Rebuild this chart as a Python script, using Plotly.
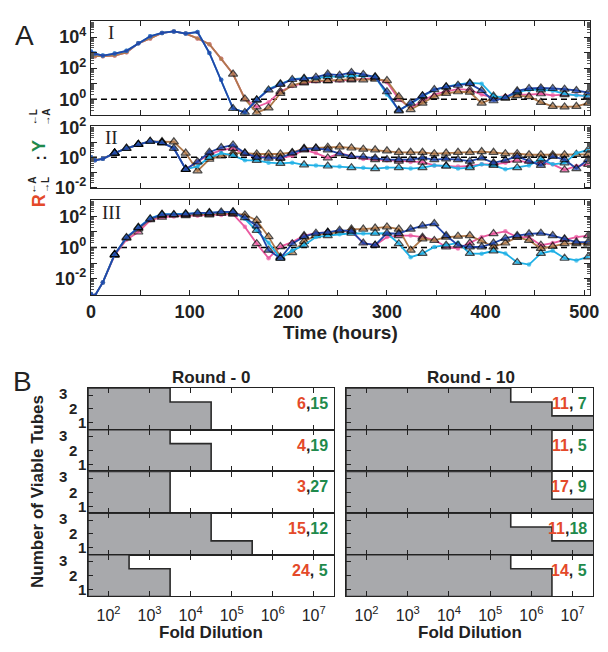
import plotly.graph_objects as go

# ---------------- DATA ----------------
T = [0, 4, 12, 24, 36, 48, 60, 72, 84, 96, 108, 120, 132, 144, 156, 168, 180, 192, 204, 216, 228, 240,
     252, 264, 276, 288, 300, 312, 324, 336, 348, 360, 372, 384, 396, 408, 420, 432, 444, 456, 468, 480, 492, 504]

# log10 of the ratio, panel I
I_blue = [3.08, 2.94, 2.81, 2.94, 3.12, 3.6, 4.06, 4.27, 4.37, 4.23, 4.33, 2.98, 1.25, -0.6, -0.85, -0.05, 0.6, 0.95,
          1.27, 1.31, 1.42, 1.62, 1.55, 1.73, 1.6, 1.42, 0.48, -0.75, -0.25, 0.23, 0.62, 0.79, 0.9, 1.0, 0.56, -0.1,
          0.1, 0.54, 0.69, 0.73, 0.69, 0.65, 0.56, 0.42]
I_brown = [2.9, 2.77, 2.77, 2.81, 3.02, 3.6, 3.92, 4.27, 4.37, 4.23, 3.92, 3.54, 2.6, 1.62, 0.02, -0.87, -0.56, 0.38,
           0.9, 1.1, 1.2, 1.2, 1.25, 1.3, 1.25, 1.3, 1.2, 0.17, -0.67, -0.25, 0.17, 0.38, 0.48, 0.45, -0.25, 0.06,
           0.06, 0.23, 0.17, -0.2, -0.46, -0.5, -0.46, -0.25]
I_pink = [2.9, 2.77, 2.77, 2.81, 3.02, 3.6, 3.92, 4.27, 4.37, 4.23, 3.92, 3.54, 2.6, 1.62, 0.02,
          -0.5, -0.2, 0.5, 0.85, 1.05, 1.15, 1.2, 1.2, 1.25, 1.3, 1.35, 1.1, 0.0, -0.55, -0.1, 0.3, 0.5, 0.65, 0.6,
          0.3, 0.1, 0.2, 0.3, 0.3, 0.35, 0.25, 0.3, 0.3, 0.15]
I_cyan = [3.08, 2.94, 2.81, 2.94, 3.12, 3.6, 4.06, 4.27, 4.37, 4.23, 4.33, 2.98, 1.25, -0.6, -0.85,
          -0.05, 0.65, 1.0, 1.3, 1.35, 1.35, 1.45, 1.45, 1.5, 1.5, 1.45, 0.3, -0.7, -0.3, 0.2, 0.6, 0.8, 0.95, 1.05,
          1.0, 0.2, 0.1, 0.45, 0.6, 0.6, 0.55, 0.35, 0.25, 0.2]

# panel II
II_blue = [0, -0.2, -0.1, 0.28, 0.6, 0.86, 1.07, 0.97, 0.6, -0.8, -0.3, 0.34, 0.65, 0.82, 0.28, 0.0, -0.05, -0.05,
           0.28, 0.55, 0.6, 0.5, 0.24, 0.06, 0.03, -0.04, -0.15, -0.15, -0.15, -0.04, -0.15, -0.11, -0.15, -0.26,
           -0.04, -0.37, -0.19, 0.06, -0.26, -0.54, 0.06, -0.15, -0.75, -0.15]
II_brown = [0, -0.15, -0.1, 0.28, 0.6, 0.86, 1.05, 1.05, 1.03, 0.28, -0.9, -0.13, 0.1, 0.28, 0.28, 0.22, 0.22, 0.22,
            0.32, 0.6, 0.62, 0.67, 0.7, 0.62, 0.54, 0.5, 0.43, 0.33, 0.33, 0.33, 0.24, 0.28, 0.33, 0.33, 0.38, 0.33,
            0.24, 0.24, 0.17, 0.17, 0.17, 0.17, 0.2, 0.2]
II_pink = [0, -0.2, -0.1, 0.28, 0.6, 0.86, 1.07, 0.97, 0.6, -0.8, -0.3, 0.2, 0.47, 0.6, 0.2, 0.06, 0.0, -0.05, 0.1,
           0.5, 0.28, -0.04, 0.28, 0.06, -0.11, -0.15, -0.19, -0.26, -0.32, -0.32, -0.54, -0.58, -0.62, -0.58,
           -0.47, -0.47, -0.37, -0.19, -0.37, -0.37, -0.47, -0.84, -0.58, -0.47]
II_cyan = [0, -0.2, -0.1, 0.28, 0.6, 0.86, 1.07, 0.97, 0.6, -0.8, -0.6, 0.0, 0.28, 0.13, -0.2, -0.2, -0.36, -0.4,
           -0.36, -0.5, -0.54, -0.58, -0.62, -0.69, -0.69, -0.75, -0.69, -0.69, -0.75, -0.69, -0.54, -0.58, -0.75,
           -0.69, -0.47, -0.54, -0.8, -0.69, -0.54, -0.11, -0.47, -0.37, 0.28, 0.5]

# panel III
III_blue = [-3.0, -3.1, -2.25, -0.45, 0.65, 1.28, 1.85, 2.12, 2.12, 2.15, 2.23, 2.23, 2.29, 2.29, 1.92, 1.4, -0.17,
            -0.69, 0.25, 0.7, 0.92, 0.98, 1.12, 1.05, 0.29, 0.15, 0.92, 0.9, 1.19, 1.4, 1.54, 0.77, 0.15, 0.04, 0.04,
            0.29, 0.6, 0.77, 0.88, 0.92, 0.77, 0.56, 0.35, 0.35]
III_brown = [-3.0, -3.1, -2.25, -0.45, 0.6, 1.2, 1.8, 2.05, 2.1, 2.1, 2.15, 2.15, 2.2, 2.2, 2.1, 1.75, 0.7, -0.6,
             -0.33, 0.4, 0.77, 0.92, 0.98, 1.19, 1.19, 1.25, 1.33, 1.19, -0.17, 0.56, 0.46, 0.67, 0.73, 0.77, 0.42,
             0.04, 0.29, 0.67, 0.46, -0.06, 0.08, 0.25, 0.25, 0.23]
III_pink = [-3.0, -3.1, -2.25, -0.5, 0.5, 1.0, 1.75, 1.95, 2.0, 2.05, 2.05, 2.1, 2.1, 2.15, 1.33, 0.25, -0.69, 0.06,
            0.35, 0.77, 0.92, 0.98, 1.04, 1.08, 0.29, 0.15, 0.67, 0.77, 0.77, 0.67, 0.5, 0.04, -0.06, 0.29, 0.67,
            0.9, 1.04, 0.67, 0.67, 0.15, 0.29, 0.5, 0.67, 0.77]
III_cyan = [-3.0, -3.1, -2.25, -0.45, 0.65, 1.3, 1.88, 2.15, 2.15, 2.18, 2.25, 2.25, 2.3, 2.3, 1.85, 1.1, 0.3, -0.69,
            -0.2, 0.15, 0.67, 0.77, 0.85, 0.92, 0.9, 0.92, 0.92, 0.25, -0.62, -0.38, 0.04, 0.15, 0.3, -0.38, -0.4,
            -0.21, -0.38, -0.96, -1.1, -0.38, -0.21, -0.69, -0.83, -0.6]

# Panel B: log10 of the highest dilution at which >=3, >=2, >=1 tubes were viable (8 = beyond range)
R0_three = [3.5, 3.5, 3.5, 4.5, 2.5]
R0_two = [4.5, 4.5, 3.5, 4.5, 3.5]
R0_one = [4.5, 4.5, 3.5, 5.5, 3.5]
R10_three = [5.5, 6.5, 6.5, 5.5, 5.5]
R10_two = [6.5, 6.5, 6.5, 6.5, 6.5]
R10_one = [8.0, 6.5, 8.0, 8.0, 6.5]
R0_red = [6, 4, 3, 15, 24]
R0_green = [15, 19, 27, 12, 5]
R10_red = [11, 11, 17, 11, 14]
R10_green = [7, 5, 9, 18, 5]
B_decades = [2, 3, 4, 5, 6, 7]
A_time_ticks = [0, 50, 100, 150, 200, 250, 300, 350, 400, 450, 500]

# ---------------- STYLE ----------------
W, H = 608, 652
SANS = "Liberation Sans, Arial, Helvetica, sans-serif"
SERIF = "Liberation Serif, Times New Roman, serif"
BROWN = "#b07a4c"
PINK = "#ea5aa0"
CYAN = "#1fb0e6"
BLUE = "#2346a8"
RED_T = "#e4492a"
GREEN_T = "#1f8a4c"
INK = "#222222"


def px(x):
    return x / W


def py(y):
    return 1 - y / H


fig = go.Figure()
annotations = []


def ann(text, x, y, size, color=INK, angle=0, xanchor="center", yanchor="middle", family=SANS,
        xref="paper", yref="paper"):
    annotations.append(dict(text=text, x=x, y=y, xref=xref, yref=yref, showarrow=False, textangle=angle,
                            xanchor=xanchor, yanchor=yanchor, font=dict(size=size, color=color, family=family)))


def add_series(vals, color, ax, tri_start, every):
    y = [10 ** v for v in vals]
    sym, size, lw = [], [], []
    for i, t in enumerate(T):
        tri = t >= tri_start and (every == 1 or i % 2 == 1)
        sym.append("triangle-up" if tri else "circle")
        size.append(8 if tri else 4.5)
        lw.append(1.2 if tri else 0)
    fig.add_trace(go.Scatter(x=T, y=y, mode="lines+markers", xaxis="x" + ax, yaxis="y" + ax,
                             line=dict(color=color, width=1.8),
                             marker=dict(symbol=sym, size=size, color=color, line=dict(color="black", width=lw)),
                             showlegend=False, hoverinfo="skip"))


layout_axes = {}
A_X = [px(88), px(599)]
panels_A = [
    ("", I_brown, I_pink, I_cyan, I_blue, [py(107), py(10)], [-1.0, 5.06], -1, 5, [0, 2, 4], "I", 22, 144, 168),
    ("2", II_brown, II_pink, II_cyan, II_blue, [py(183), py(119)], [-2.07, 2.06], -2, 2, [-2, 0, 2], "II", 131, 24, 24),
    ("3", III_brown, III_pink, III_cyan, III_blue, [py(293), py(195)], [-3.06, 3.06], -3, 3, [-2, 0, 2], "III", 208, 24, 24),
]
for k, (ax, br, pk, cy, bl, ydom, yr, lo, hi, labs, roman, ry, t1, t2) in enumerate(panels_A):
    # reference dashed line at ratio = 1
    fig.add_trace(go.Scatter(x=[0, 506], y=[1, 1], mode="lines", xaxis="x" + ax, yaxis="y" + ax,
                             line=dict(color="black", width=1.5, dash="6px,4px"), showlegend=False,
                             hoverinfo="skip"))
    add_series(pk, PINK, ax, t2, 2)
    add_series(br, BROWN, ax, t1, 1)
    add_series(cy, CYAN, ax, t2, 2)
    add_series(bl, BLUE, ax, t1, 1)
    last = (k == 2)
    xname = "xaxis" + ax
    yname = "yaxis" + ax
    layout_axes[xname] = dict(domain=A_X, range=[0, 506], anchor="y" + ax,
                              tickvals=A_time_ticks,
                              ticktext=[("<b>%d</b>" % v if v % 100 == 0 else "") for v in A_time_ticks],
                              showticklabels=last, ticks="inside", ticklen=5, tickcolor=INK,
                              showline=True, linecolor=INK, linewidth=1.2, mirror="allticks",
                              showgrid=False, zeroline=False, ticklabelstandoff=0,
                              tickfont=dict(size=18, family=SANS, color=INK))
    decs = list(range(lo, hi + 1))
    minors = [m * 10 ** d for d in range(lo - 1, hi + 1) for m in range(2, 10)]
    layout_axes[yname] = dict(domain=ydom, type="log", range=yr, anchor="x" + ax,
                              tickvals=[10 ** d for d in decs],
                              ticktext=[("<b>10<sup>%d</sup></b>" % d if d in labs else "") for d in decs],
                              ticks="inside", ticklen=6, tickcolor=INK,
                              minor=dict(ticks="inside", ticklen=3, tickcolor="#555", tickmode="array",
                                         tickvals=minors, showgrid=False),
                              showline=True, linecolor=INK, linewidth=1.2, mirror="allticks",
                              showgrid=False, zeroline=False, tickfont=dict(size=18, family=SANS, color=INK))
    ann(roman, px(109), py(ry), 19, family=SERIF)

ann("<b>Time (hours)</b>", px(343), py(332), 19)
ann("A", px(20), py(25), 28)

# composite y-axis title for panel A
ann("<b>R</b>", px(35), py(196), 18, color=RED_T, angle=-90)
ann("<b>\u2190A<br>\u2192L</b>", px(35), py(180), 10, angle=-90)
ann("<b>:</b>", px(36), py(152), 16, angle=-90)
ann("<b>Y</b>", px(35), py(139), 18, color=GREEN_T, angle=-90)
ann("<b>\u2190L<br>\u2192A</b>", px(35), py(110), 10, angle=-90)

# ---------------- PANEL B ----------------
B_cols = [
    ([px(85), px(337)], R0_three, R0_two, R0_one, R0_red, R0_green, 4, "Round - 0", 211),
    ([px(349), px(602)], R10_three, R10_two, R10_one, R10_red, R10_green, 9, "Round - 10", 477),
]
TOP = 389
SUBH = 43
for xdom, three, two, one, reds, greens, base, title, tx in B_cols:
    for i in range(5):
        n = str(base + i)
        x3, x2, x1 = 10 ** three[i], 10 ** two[i], 10 ** one[i]
        left = 10 ** 1.5
        fig.add_trace(go.Scatter(x=[left, x3, x3, x2, x2, x1, x1, left, left],
                                 y=[3.5, 3.5, 2.5, 2.5, 1.5, 1.5, 0.5, 0.5, 3.5],
                                 mode="lines", fill="toself", fillcolor="#a8a9ac",
                                 line=dict(color="#2a2a2a", width=1.6), xaxis="x" + n, yaxis="y" + n,
                                 showlegend=False, hoverinfo="skip"))
        last = (i == 4)
        layout_axes["xaxis" + n] = dict(domain=xdom, type="log", range=[1.5, 7.5], anchor="y" + n,
                                        tickvals=[10 ** d for d in B_decades],
                                        ticktext=["10<sup>%d</sup>" % d for d in B_decades],
                                        showticklabels=last, ticks="inside", ticklen=5, tickcolor=INK,
                                        showline=True, linecolor=INK, linewidth=1.4, mirror="allticks",
                                        showgrid=False, zeroline=False, ticklabelstandoff=4,
                                        tickfont=dict(size=16, family=SANS, color=INK))
        y_top = TOP + SUBH * i
        layout_axes["yaxis" + n] = dict(domain=[py(y_top + SUBH), py(y_top)], range=[0.5, 3.5],
                                        anchor="x" + n, tickvals=[1, 2, 3], showticklabels=False,
                                        ticks="inside", ticklen=5, tickcolor=INK, showline=True,
                                        linecolor=INK, linewidth=1.4, mirror=True, showgrid=False,
                                        zeroline=False)
        g = ("%d" % greens[i]) if greens[i] >= 10 else (" %d" % greens[i])
        txt = "<b><span style='color:%s'>%d</span>,<span style='color:%s'>%s</span></b>" % (
            RED_T, reds[i], GREEN_T, g)
        ann(txt, xdom[1] - px(4), 2.4, 16, xanchor="right", yref="y" + n)
        if base == 4:
            ann("<b>3</b>", px(59), 3.1, 15, yref="y" + n)
            ann("<b>2</b>", px(70), 2.0, 15, yref="y" + n)
            ann("<b>1</b>", px(79), 1.0, 15, yref="y" + n)
    ann("<b>%s</b>" % title, px(tx), py(378), 17)
    ann("<b>Fold Dilution</b>", (xdom[0] + xdom[1]) / 2, py(641), 17)

ann("<b>Number of Viable Tubes</b>", px(34), py(496), 17, angle=-90)
ann("B", px(18), py(382), 28)

fig.update_layout(width=W, height=H, margin=dict(l=0, r=0, t=0, b=0), paper_bgcolor="white",
                  plot_bgcolor="white", showlegend=False, font=dict(family=SANS, color=INK),
                  annotations=annotations, **layout_axes)
fig.write_html("out.html", config={"displayModeBar": False},
               post_script="document.body.style.margin='0';document.body.style.overflow='hidden';")
